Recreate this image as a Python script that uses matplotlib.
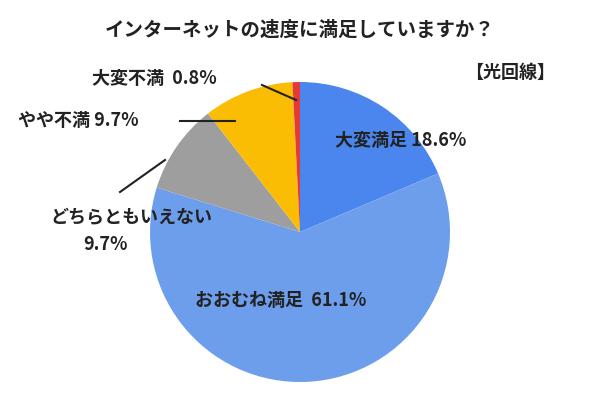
import matplotlib.pyplot as plt

plt.rcParams['font.family'] = ['Noto Sans CJK JP', 'DejaVu Sans']

labels = ['大変満足', 'おおむね満足', 'どちらともいえない', 'やや不満', '大変不満']
values = [18.6, 61.1, 9.7, 9.7, 0.8]
colors = ['#4a86ee', '#6d9eeb', '#9e9e9e', '#fbbc04', '#e53935']

fig = plt.figure(figsize=(6, 4), dpi=100)
fig.patch.set_facecolor('white')
ax = fig.add_axes([0.25, 0.045, 0.5, 0.75])
ax.pie(values, colors=colors, startangle=90, counterclock=False,
       wedgeprops=dict(linewidth=0))
ax.set_xlim(-1, 1)
ax.set_ylim(-1, 1)
ax.set_aspect('equal')

def px(x, y):
    return x / 600, 1 - y / 400

def txt(x, y, s, size=13, **kw):
    fig.text(*px(x, y), s, fontsize=size, fontweight='bold', color='#222222',
             va='center', **kw)

def line(x0, y0, x1, y1):
    fig.add_artist(plt.Line2D([x0 / 600, x1 / 600], [1 - y0 / 400, 1 - y1 / 400],
                              color='#222222', lw=1.5))

txt(300, 30, 'インターネットの速度に満足していますか？', size=14, ha='center')
txt(555, 72, '【光回線】', ha='right')
txt(335, 140, '大変満足 18.6%', ha='left')
txt(195, 300, 'おおむね満足  61.1%', ha='left')
txt(212, 218, 'どちらともいえない', ha='right')
txt(128, 244, '9.7%', ha='right')
txt(18, 121, 'やや不満 9.7%', ha='left')
txt(92, 78, '大変不満  0.8%', ha='left')
line(262, 85, 296, 100)
line(180, 121, 235, 121)
line(120, 192, 165, 160)

fig.savefig('out.png', dpi=100)
